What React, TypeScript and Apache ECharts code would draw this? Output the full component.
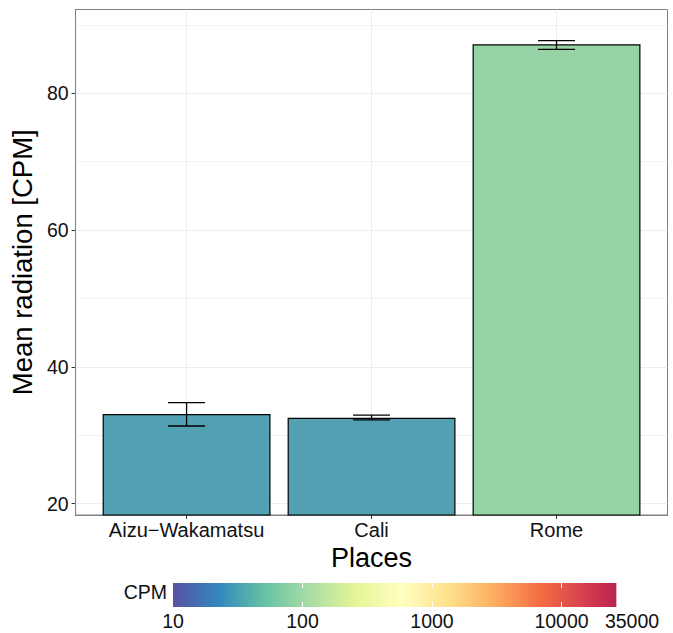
import React, { useEffect, useRef } from "react";
import * as echarts from "echarts";

// ---- data ----
const places = ["Aizu\u2212Wakamatsu", "Cali", "Rome"];
const meanCPM = [33.1, 32.57, 87.16];
const errLow = [31.36, 32.25, 86.43];
const errHigh = [34.77, 32.95, 87.69];
const barColors = ["#52A1B3", "#52A1B3", "#96D4A6"];

const yTicks = [20, 40, 60, 80];
const yMinorTicks = [30, 50, 70, 90];
const yRange = [18.35, 92.25];

const legendTicks = [10, 100, 1000, 10000, 35000];
const legendBarRange = [10, 26500];

const FONT = "'Liberation Sans', Arial, Helvetica, sans-serif";

export default function App() {
  const ref = useRef<HTMLDivElement>(null);

  useEffect(() => {
    if (!ref.current) return;
    const chart = echarts.init(ref.current, undefined, { renderer: "svg" });

    const xs = places.map((_, i) => i + 1);
    const gridW = 597;
    const unitPx = gridW / 3.2;
    const lg = (v: number) => Math.log10(v);
    const lgTicks = legendTicks.map(lg);

    const gradStops = [
      { offset: 0, color: "#5A52A3" },
      { offset: 0.1035, color: "#3288BD" },
      { offset: 0.207, color: "#66C2A5" },
      { offset: 0.3106, color: "#ABDDA4" },
      { offset: 0.414, color: "#E6F598" },
      { offset: 0.5177, color: "#FFFFBF" },
      { offset: 0.621, color: "#FEE08B" },
      { offset: 0.7247, color: "#FDAE61" },
      { offset: 0.828, color: "#F46D43" },
      { offset: 0.9318, color: "#D53E4F" },
      { offset: 1, color: "#BA2350" },
    ];

    const gridLineData: any[] = [
      ...yTicks.map((v) => ({ yAxis: v, lineStyle: { width: 0.9 } })),
      ...yMinorTicks.map((v) => ({ yAxis: v, lineStyle: { width: 0.6 } })),
      ...xs.map((v) => ({ xAxis: v, lineStyle: { width: 0.9 } })),
    ];

    const option: any = {
      animation: false,
      textStyle: { fontFamily: FONT },
      grid: [
        {
          left: 70.5,
          top: 9.5,
          width: gridW,
          height: 505.5,
          show: true,
          borderColor: "#808080",
          borderWidth: 1,
          backgroundColor: "#fff",
        },
        { left: 173, top: 583, width: 459, height: 24 },
      ],
      xAxis: [
        {
          gridIndex: 0,
          type: "value",
          min: 0.4,
          max: 3.6,
          splitLine: { show: false },
          axisLine: { show: true, lineStyle: { color: "#808080", width: 1 } },
          axisTick: {
            show: true,
            customValues: xs,
            length: 4,
            lineStyle: { color: "#333", width: 1 },
          },
          axisLabel: {
            customValues: xs,
            formatter: (v: number) => places[Math.round(v) - 1] ?? "",
            fontSize: 20,
            color: "#111",
            margin: 5,
            fontFamily: FONT,
          },
          name: "Places",
          nameLocation: "middle",
          nameGap: 24,
          nameTextStyle: { fontSize: 27, color: "#000", fontFamily: FONT },
        },
        {
          gridIndex: 1,
          type: "value",
          min: lg(legendTicks[0]),
          max: lg(legendTicks[legendTicks.length - 1]),
          z: 10,
          splitLine: { show: false },
          axisLine: { show: false },
          axisTick: {
            show: true,
            inside: true,
            length: 5,
            customValues: lgTicks.slice(1, 4),
            lineStyle: { color: "#fff", width: 1 },
          },
          axisLabel: {
            customValues: lgTicks,
            formatter: (v: number) => String(Math.round(Math.pow(10, v))),
            fontSize: 19.5,
            color: "#111",
            margin: 4,
            fontFamily: FONT,
          },
        },
        {
          gridIndex: 1,
          type: "value",
          position: "top",
          min: lg(legendTicks[0]),
          max: lg(legendTicks[legendTicks.length - 1]),
          z: 10,
          splitLine: { show: false },
          axisLine: { show: false },
          axisTick: {
            show: true,
            inside: true,
            length: 5,
            customValues: lgTicks.slice(1, 4),
            lineStyle: { color: "#fff", width: 1 },
          },
          axisLabel: { show: false },
        },
      ],
      yAxis: [
        {
          gridIndex: 0,
          type: "value",
          min: yRange[0],
          max: yRange[1],
          splitLine: { show: false },
          axisLine: { show: true, lineStyle: { color: "#808080", width: 1 } },
          axisTick: {
            show: true,
            customValues: yTicks,
            length: 4,
            lineStyle: { color: "#333", width: 1 },
          },
          axisLabel: {
            customValues: yTicks,
            fontSize: 19.5,
            color: "#111",
            margin: 7,
            fontFamily: FONT,
          },
          name: "Mean radiation [CPM]",
          nameLocation: "middle",
          nameGap: 32,
          nameTextStyle: { fontSize: 27.5, color: "#000", fontFamily: FONT },
        },
        {
          gridIndex: 1,
          type: "value",
          min: 0,
          max: 1,
          show: false,
        },
      ],
      series: [
        {
          type: "bar",
          xAxisIndex: 0,
          yAxisIndex: 0,
          z: 2,
          barWidth: 0.9 * unitPx,
          data: meanCPM.map((v, i) => ({
            value: [xs[i], v],
            itemStyle: {
              color: barColors[i],
              borderColor: "#000",
              borderWidth: 1.2,
            },
          })),
          markLine: {
            silent: true,
            symbol: ["none", "none"],
            z: 1,
            label: { show: false },
            lineStyle: { color: "#EBEBEB", type: "solid" },
            data: gridLineData,
          },
        },
        {
          type: "custom",
          xAxisIndex: 0,
          yAxisIndex: 0,
          z: 4,
          data: xs.map((x, i) => [x, errLow[i], errHigh[i]]),
          renderItem: (params: any, api: any) => {
            const x = api.value(0);
            const lo = api.coord([x, api.value(1)]);
            const hi = api.coord([x, api.value(2)]);
            const half = api.size([0.1, 0])[0];
            const style = { stroke: "#000", lineWidth: 1.3 };
            return {
              type: "group",
              children: [
                { type: "line", shape: { x1: lo[0], y1: lo[1], x2: hi[0], y2: hi[1] }, style },
                { type: "line", shape: { x1: hi[0] - half, y1: hi[1], x2: hi[0] + half, y2: hi[1] }, style },
                { type: "line", shape: { x1: lo[0] - half, y1: lo[1], x2: lo[0] + half, y2: lo[1] }, style },
              ],
            };
          },
        },
        {
          type: "custom",
          xAxisIndex: 1,
          yAxisIndex: 1,
          z: 2,
          silent: true,
          data: [[lg(legendBarRange[0]), lg(legendBarRange[1])]],
          renderItem: (params: any, api: any) => {
            const a = api.coord([api.value(0), 0]);
            const b = api.coord([api.value(1), 1]);
            return {
              type: "rect",
              shape: { x: a[0], y: b[1], width: b[0] - a[0], height: a[1] - b[1] },
              style: { fill: new echarts.graphic.LinearGradient(0, 0, 1, 0, gradStops) },
            };
          },
        },
      ],
      graphic: [
        {
          type: "text",
          x: 167,
          y: 592,
          style: {
            text: "CPM",
            fontSize: 19.5,
            fill: "#111",
            fontFamily: FONT,
            align: "right",
            verticalAlign: "middle",
          },
        },
      ],
    };

    chart.setOption(option);
    return () => chart.dispose();
  }, []);

  return (
    <div
      ref={ref}
      style={{ position: "absolute", left: 0, top: 0, width: 673, height: 633 }}
    />
  );
}
